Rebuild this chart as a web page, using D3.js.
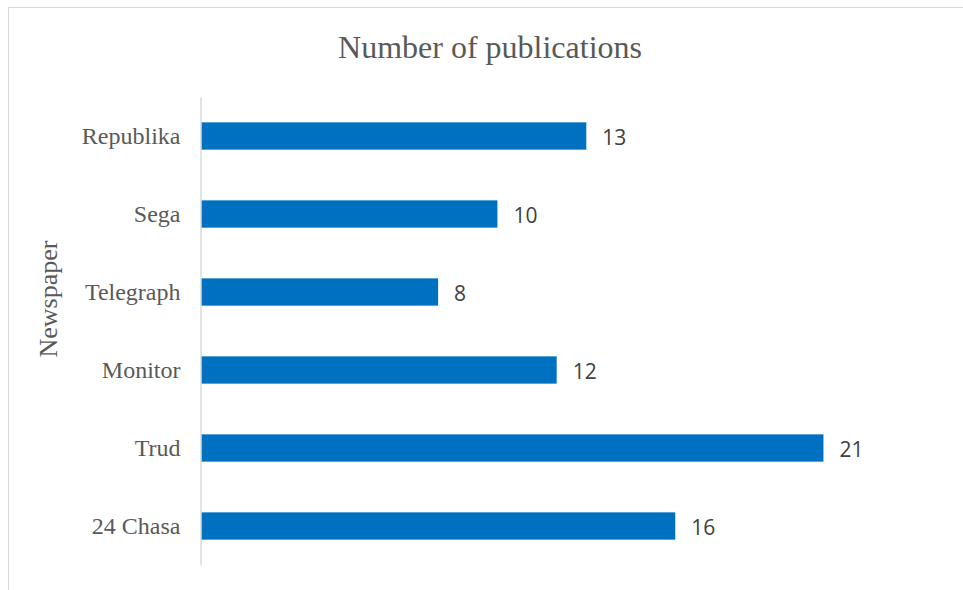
<!DOCTYPE html>
<html>
<head>
<meta charset="utf-8">
<script src="https://cdn.jsdelivr.net/npm/d3@7"></script>
<style>
  body { margin: 0; background: #fff; }
</style>
</head>
<body>
<svg class="chart"></svg>
<script>
// Data
var categories = ["Republika", "Sega", "Telegraph", "Monitor", "Trud", "24 Chasa"];
var values = [13, 10, 8, 12, 21, 16];

var W = 963, H = 590;
var chart = d3.select(".chart")
  .attr("width", W)
  .attr("height", H);

// chart frame
chart.append("rect")
  .attr("x", 8.5).attr("y", 7.5)
  .attr("width", W + 10).attr("height", H + 10)
  .attr("fill", "#fff")
  .attr("stroke", "#d9d9d9")
  .attr("stroke-width", 1);

// scales
var x = d3.scaleLinear()
  .domain([0, 25])
  .range([201, 942]);
var y = d3.scaleBand()
  .domain(categories)
  .range([97, 565])
  .paddingInner(0.65)
  .paddingOuter(0.325);

// title
chart.append("text")
  .attr("x", 490).attr("y", 58)
  .attr("text-anchor", "middle")
  .attr("font-family", "'Liberation Serif', 'Times New Roman', serif")
  .attr("font-size", 32)
  .attr("fill", "#595959")
  .text("Number of publications");

// y axis title
chart.append("text")
  .attr("transform", "translate(57,299) rotate(-90)")
  .attr("text-anchor", "middle")
  .attr("font-family", "'Liberation Serif', 'Times New Roman', serif")
  .attr("font-size", 26)
  .attr("fill", "#595959")
  .text("Newspaper");

// bars
chart.selectAll("rect.bar")
  .data(values)
  .enter().append("rect")
    .attr("class", "bar")
    .attr("x", x(0))
    .attr("y", function(d, i) { return y(categories[i]); })
    .attr("width", function(d) { return x(d) - x(0); })
    .attr("height", y.bandwidth())
    .attr("fill", "#0070c0");

// value labels
chart.selectAll("text.val")
  .data(values)
  .enter().append("text")
    .attr("class", "val")
    .attr("x", function(d) { return x(d) + 16; })
    .attr("y", function(d, i) { return y(categories[i]) + y.bandwidth() / 2 + 1; })
    .attr("dy", "0.36em")
    .attr("font-family", "'Open Sans', 'Liberation Sans', sans-serif")
    .attr("font-size", 21)
    .attr("fill", "#404040")
    .text(function(d) { return d; });

// category axis
var yAxis = d3.axisLeft(y).tickSize(0).tickPadding(20);
var g = chart.append("g")
  .attr("transform", "translate(200.5,0)")
  .call(yAxis);
g.select(".domain").attr("stroke", "#d9d9d9").attr("stroke-width", 1.5);
g.selectAll(".tick text")
  .attr("font-family", "'Liberation Serif', 'Times New Roman', serif")
  .attr("font-size", 24)
  .attr("fill", "#595959");
</script>
</body>
</html>
